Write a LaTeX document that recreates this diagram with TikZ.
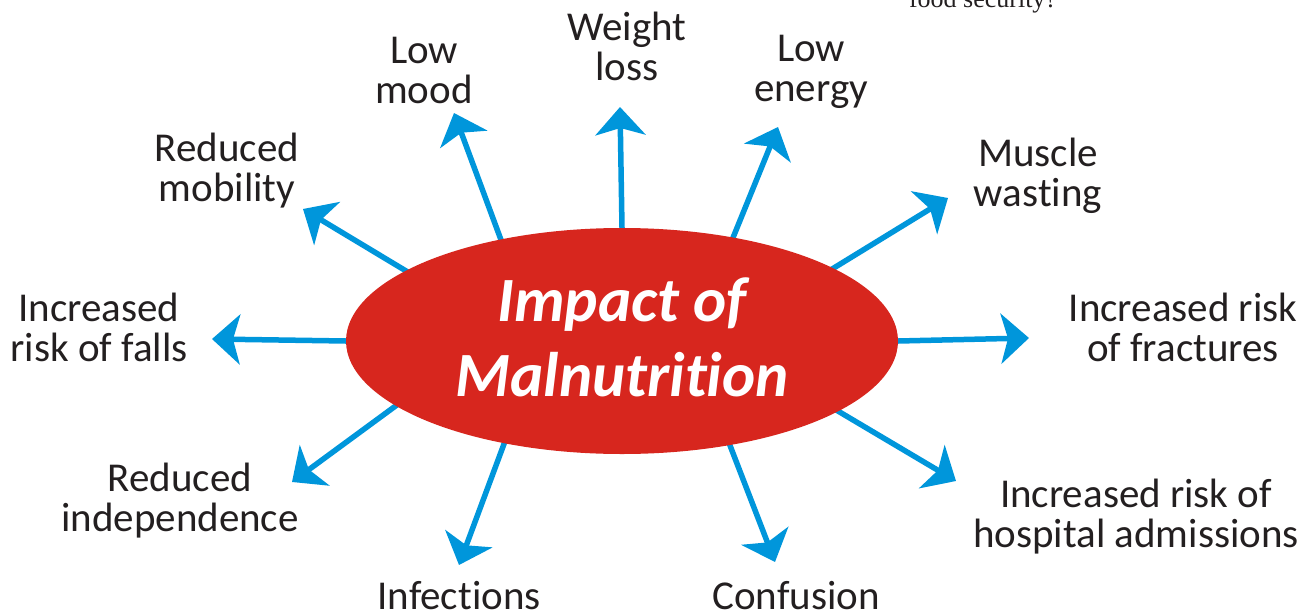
\documentclass[tikz,border=0pt]{standalone}
\usepackage{fontspec}
\setmainfont[Ligatures=NoCommon]{Carlito}
\newfontfamily\serifnote{Liberation Serif}
\usetikzlibrary{arrows.meta,shapes.geometric,backgrounds}
\definecolor{arrowblue}{RGB}{0,150,219}
\definecolor{ellred}{RGB}{215,38,30}
\definecolor{txtdark}{RGB}{35,31,32}
\tikzset{
  lbl/.style={font=\fontsize{41}{39.5}\selectfont, align=center, text=txtdark, inner sep=0pt, anchor=base},
  spoke/.style={draw=arrowblue, line width=5.5pt, shorten <=-6pt,
    -{Stealth[length=28pt,width=50pt,inset=7pt]}},
  hub/.style={ellipse, fill=ellred, draw=none, minimum width=552pt, minimum height=226pt,
    inner sep=0pt, text=white, align=center, text depth=8pt,
    font=\fontsize{63}{75}\selectfont\bfseries\itshape}
}
\begin{document}
\begin{tikzpicture}[x=1pt,y=-1pt]
\useasboundingbox (0,0) rectangle (1314,613);

\node[hub] (c) at (622,341) {Impact of\\Malnutrition};

% tips
\coordinate (t1) at (454,113);
\coordinate (t2) at (620,107);
\coordinate (t3) at (778,127);
\coordinate (t4) at (948,198);
\coordinate (t5) at (1029,338);
\coordinate (t6) at (956,481);
\coordinate (t7) at (775,562);
\coordinate (t8) at (459,565);
\coordinate (t9) at (292,482);
\coordinate (t10) at (212,339);
\coordinate (t11) at (303,209);

\begin{scope}[on background layer]
\draw[spoke] (c.140) -- (t1);
\draw[spoke] (c.90) -- (t2);
\draw[spoke] (c.43) -- (t3);
\draw[spoke] (c.19) -- (t4);
\draw[spoke] (c.0) -- (t5);
\draw[spoke] (c.-18) -- (t6);
\draw[spoke] (c.-44) -- (t7);
\draw[spoke] (c.221) -- (t8);
\draw[spoke] (c.196) -- (t9);
\draw[spoke] (c.180) -- (t10);
\draw[spoke] (c.162) -- (t11);
\end{scope}

% anchor=base is the baseline of the last line
\node[lbl] (mood) at (424,103) {Low\\mood};
\node[lbl] (weight) at (627,80) {Weight\\loss};
\node[lbl] (energy) at (811,101) {Low\\energy};
\node[lbl] (muscle) at (1038,206) {Muscle\\wasting};
\node[lbl] (fract) at (1183,361) {Increased risk\\of fractures};
\node[lbl] (hosp) at (1136,547) {Increased risk of\\hospital admissions};
\node[lbl] (conf) at (796,609) {Confusion};
\node[lbl] (infect) at (459,609) {Infections};
\node[lbl] (indep) at (180,531) {Reduced\\independence};
\node[lbl] (falls) at (99,361) {Increased\\risk of falls};
\node[lbl] (mobil) at (227,201) {Reduced\\mobility};

\node[anchor=base, inner sep=0pt, font=\serifnote\fontsize{26}{26}\selectfont, text=txtdark] (note) at (983,8) {food security?};
\end{tikzpicture}
\end{document}
